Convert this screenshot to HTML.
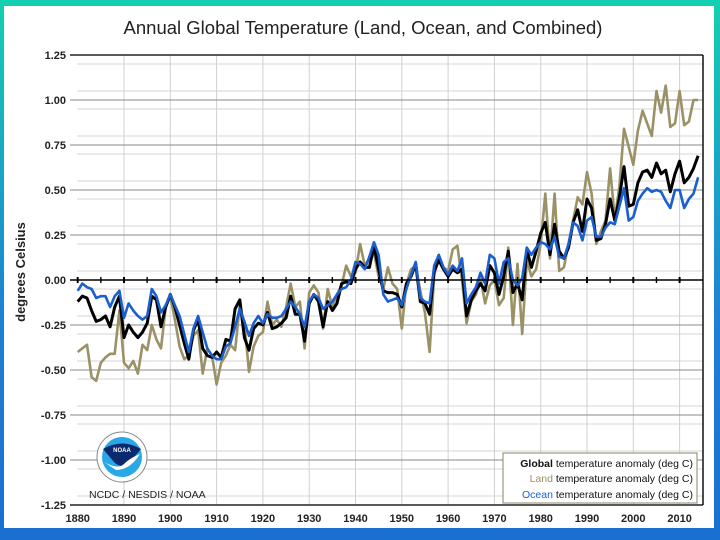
<!DOCTYPE html>
<html><head><meta charset="utf-8">
<style>
html,body{margin:0;padding:0;width:720px;height:540px;overflow:hidden}
body{background:linear-gradient(#13d0b0,#1e7fd6 60%,#1a6fd0);font-family:"Liberation Sans",sans-serif}
#panel{position:absolute;left:4px;top:6px;width:710px;height:522px;background:#fff}
svg{position:absolute;left:0;top:0}
</style></head><body>
<div id="panel"></div>
<svg id="chart" width="720" height="540"></svg>
<script>
const years=[];for(let y=1880;y<=2014;y++)years.push(y);
const globalVals=[-0.12,-0.09,-0.10,-0.17,-0.23,-0.22,-0.20,-0.26,-0.15,-0.09,-0.32,-0.25,-0.29,-0.32,-0.29,-0.24,-0.09,-0.11,-0.26,-0.15,-0.08,-0.15,-0.25,-0.35,-0.44,-0.28,-0.22,-0.38,-0.42,-0.43,-0.40,-0.43,-0.33,-0.34,-0.16,-0.11,-0.32,-0.39,-0.27,-0.24,-0.25,-0.18,-0.27,-0.26,-0.24,-0.21,-0.09,-0.19,-0.19,-0.34,-0.13,-0.08,-0.12,-0.26,-0.12,-0.17,-0.13,-0.02,-0.01,-0.02,0.06,0.10,0.07,0.07,0.19,0.06,-0.06,-0.07,-0.07,-0.08,-0.15,-0.02,0.02,0.09,-0.12,-0.13,-0.19,0.05,0.11,0.06,0.02,0.06,0.04,0.06,-0.20,-0.11,-0.06,-0.02,-0.06,0.08,0.04,-0.08,0.02,0.16,-0.07,-0.02,-0.11,0.17,0.07,0.16,0.26,0.32,0.14,0.31,0.16,0.12,0.18,0.32,0.39,0.27,0.45,0.40,0.22,0.23,0.31,0.45,0.33,0.46,0.63,0.41,0.42,0.54,0.60,0.61,0.57,0.65,0.59,0.61,0.49,0.59,0.66,0.54,0.57,0.62,0.69];
const landVals=[-0.40,-0.38,-0.36,-0.54,-0.56,-0.46,-0.43,-0.41,-0.41,-0.17,-0.46,-0.49,-0.45,-0.52,-0.36,-0.39,-0.25,-0.33,-0.38,-0.15,-0.09,-0.22,-0.37,-0.44,-0.42,-0.31,-0.28,-0.52,-0.38,-0.42,-0.58,-0.46,-0.42,-0.36,-0.39,-0.14,-0.24,-0.51,-0.37,-0.31,-0.29,-0.12,-0.25,-0.22,-0.26,-0.15,-0.02,-0.15,-0.12,-0.38,-0.07,-0.03,-0.07,-0.27,-0.05,-0.15,-0.08,-0.03,0.08,0.02,0.04,0.20,0.08,0.12,0.15,0.02,-0.05,0.07,-0.02,-0.05,-0.27,-0.02,0.06,0.08,-0.06,-0.18,-0.40,0.03,0.12,0.07,0.05,0.17,0.19,0.00,-0.24,-0.12,-0.08,0.01,-0.13,-0.03,0.00,-0.14,-0.10,0.18,-0.25,0.09,-0.30,0.11,0.02,0.06,0.20,0.48,0.12,0.48,0.05,0.07,0.20,0.33,0.46,0.42,0.60,0.48,0.20,0.27,0.33,0.62,0.34,0.52,0.84,0.74,0.64,0.83,0.94,0.87,0.80,1.05,0.93,1.08,0.85,0.87,1.05,0.86,0.88,1.00,1.00];
const oceanVals=[-0.06,-0.02,-0.04,-0.05,-0.10,-0.09,-0.09,-0.15,-0.09,-0.06,-0.21,-0.13,-0.17,-0.20,-0.22,-0.20,-0.05,-0.09,-0.18,-0.14,-0.08,-0.14,-0.20,-0.30,-0.40,-0.27,-0.20,-0.29,-0.38,-0.42,-0.44,-0.44,-0.37,-0.35,-0.26,-0.16,-0.23,-0.31,-0.24,-0.20,-0.24,-0.19,-0.21,-0.21,-0.20,-0.16,-0.12,-0.15,-0.19,-0.26,-0.12,-0.08,-0.10,-0.16,-0.14,-0.12,-0.08,-0.05,-0.04,0.00,0.10,0.09,0.06,0.13,0.21,0.14,-0.08,-0.12,-0.11,-0.10,-0.14,-0.05,0.03,0.10,-0.10,-0.12,-0.13,0.08,0.14,0.07,0.03,0.08,0.05,0.12,-0.13,-0.08,-0.04,0.04,-0.02,0.14,0.12,-0.02,0.10,0.12,0.00,-0.03,0.01,0.18,0.14,0.18,0.21,0.20,0.17,0.24,0.13,0.12,0.20,0.32,0.30,0.22,0.33,0.35,0.24,0.24,0.29,0.32,0.31,0.41,0.51,0.33,0.35,0.44,0.48,0.51,0.49,0.50,0.49,0.44,0.40,0.50,0.50,0.40,0.45,0.48,0.57];
const yTicks=[1.25,1.00,0.75,0.50,0.25,0.00,-0.25,-0.50,-0.75,-1.00,-1.25];
const yTickLabels=["1.25","1.00","0.75","0.50","0.25","0.00","-0.25","-0.50","-0.75","-1.00","-1.25"];
const xTicks=[1880,1890,1900,1910,1920,1930,1940,1950,1960,1970,1980,1990,2000,2010];

const NS="http://www.w3.org/2000/svg";
const svg=document.getElementById('chart');
const L=77,R=703,T=55,B=505;
const X=y=>77.7+(y-1880)*4.63;
const Y=v=>280-v*180;
function mk(t,a,p){const e=document.createElementNS(NS,t);for(const k in a)e.setAttribute(k,a[k]);(p||svg).appendChild(e);return e;}

// minor grid
for(let i=0;i<10;i++){const base=1.25-i*0.25;[0.05,0.20].forEach(o=>{const g=mk('line',{x1:L,x2:R,y1:Y(base-o),y2:Y(base-o),stroke:'#d6d6d6','stroke-width':1});

});}
xTicks.forEach(t=>{if(t===1880)return;const g=mk('line',{x1:X(t),x2:X(t),y1:T,y2:B,stroke:'#d0d0d0','stroke-width':1});

});
yTicks.forEach((t,i)=>{if(t!==0){const g=mk('line',{x1:L-7,x2:R,y1:Y(t),y2:Y(t),stroke:(i===0||i===10)?'#222':'#8a8a8a','stroke-width':(i===0||i===10)?1.5:1});

}
const tx=mk('text',{x:66,y:Y(t)+4,'text-anchor':'end','font-size':11,'font-weight':'bold',fill:'#222'});tx.textContent=yTickLabels[i];

});
xTicks.forEach(t=>{const tx=mk('text',{x:X(t),y:522,'text-anchor':'middle','font-size':11,'font-weight':'bold',fill:'#222'});tx.textContent=t;

});
// right border
const rb=mk('line',{x1:R,x2:R,y1:T,y2:B,stroke:'#111','stroke-width':1.5});



// series
function series(vals,color,w,name){const d=vals.map((v,i)=>(i?'L':'M')+X(years[i]).toFixed(1)+' '+Y(v).toFixed(1)).join(' ');
const p=mk('path',{d:d,fill:'none',stroke:color,'stroke-width':w,'stroke-linejoin':'round'});

}
series(landVals,'#9b9166',2.6,'land-line');
series(globalVals,'#000',3,'global-line');
series(oceanVals,'#1a5fd0',2.6,'ocean-line');

// zero axis with ticks
const z=mk('line',{x1:L-7,x2:R,y1:Y(0),y2:Y(0),stroke:'#000','stroke-width':1.6});


for(let y=1880;y<=2014;y+=5){const tk=mk('line',{x1:X(y),x2:X(y),y1:Y(0)-3,y2:Y(0)+3,stroke:'#000','stroke-width':y%10===0?2:1.4});

}
</script>
<svg width="720" height="540" style="pointer-events:none">
<text x="363" y="34" text-anchor="middle" font-size="18.5" fill="#222" font-family="Liberation Sans,sans-serif">Annual Global Temperature (Land, Ocean, and Combined)</text>
<text transform="translate(25,272) rotate(-90)" text-anchor="middle" font-size="13" font-weight="bold" fill="#222" font-family="Liberation Sans,sans-serif">degrees Celsius</text>
<g>
<circle cx="122" cy="457" r="25" fill="#fff" stroke="#888" stroke-width="1"/>
<circle cx="122" cy="457" r="20" fill="#29a8e8"/>
<path d="M103,449 Q122,438 141,449 L130,462 Q122,470 114,462 Z" fill="#0b2a6e"/>
<path d="M104,462 Q118,470 124,464 Q130,458 140,454 Q130,470 116,470 Z" fill="#fff"/>
<text x="122" y="452" text-anchor="middle" font-size="6" font-weight="bold" fill="#fff" font-family="Liberation Sans,sans-serif">NOAA</text>
</g>
<text x="89" y="498" font-size="10.5" fill="#222" font-family="Liberation Sans,sans-serif">NCDC / NESDIS / NOAA</text>
<g font-family="Liberation Sans,sans-serif" font-size="10.5" text-anchor="end">
<rect x="503" y="453" width="194" height="50" fill="#fff" stroke="#8a8466" stroke-width="1"/>
<text x="693" y="467" fill="#111"><tspan font-weight="bold">Global</tspan> temperature anomaly (deg C)</text>
<text x="693" y="482" fill="#111"><tspan fill="#9b9166">Land</tspan> temperature anomaly (deg C)</text>
<text x="693" y="498" fill="#111"><tspan fill="#1a5fd0">Ocean</tspan> temperature anomaly (deg C)</text>
</g>
</svg>
</body></html>
